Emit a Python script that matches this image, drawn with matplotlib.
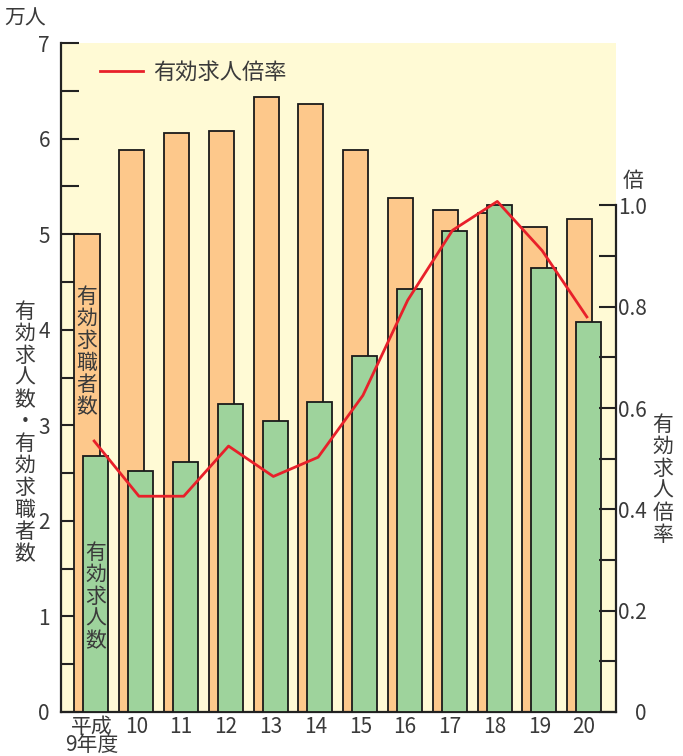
import matplotlib
matplotlib.use("Agg")
from matplotlib import pyplot as plt
from matplotlib.lines import Line2D
from matplotlib.ticker import FixedLocator, MultipleLocator

plt.rcParams['font.family'] = ['Noto Sans CJK JP', 'DejaVu Sans']

# data
years = ["平成\n9年度", "10", "11", "12", "13", "14", "15", "16", "17", "18", "19", "20"]
seekers = [5.00, 5.88, 6.06, 6.08, 6.43, 6.36, 5.88, 5.38, 5.25, 5.22, 5.07, 5.16]   # 有効求職者数 (万人)
openings = [2.68, 2.52, 2.62, 3.22, 3.04, 3.24, 3.72, 4.43, 5.03, 5.31, 4.65, 4.08]  # 有効求人数 (万人)
ratio = [0.535, 0.426, 0.426, 0.525, 0.465, 0.503, 0.625, 0.813, 0.951, 1.008, 0.911, 0.78]  # 有効求人倍率
ratio_ticks = [0, 0.2, 0.4, 0.6, 0.8, 1.0]
ratio_minor = [0.1, 0.3, 0.5, 0.7, 0.9]

W, H = 683, 756
TXT = "#3a3a3a"
ORANGE = "#FDC88B"
GREEN = "#9ED39C"
BG = "#FFFAD5"
RED = "#E8202A"

fig = plt.figure(figsize=(W / 100, H / 100), dpi=100)
ax = fig.add_axes([61 / W, 1 - 712 / H, (616 - 61) / W, (712 - 43) / H])
ax.set_facecolor(BG)

x = list(range(len(years)))
bw = 0.56
ax.bar([i - 0.1 for i in x], seekers, width=bw, color=ORANGE, edgecolor="#1a1a1a", linewidth=1.3, zorder=2)
ax.bar([i + 0.1 for i in x], openings, width=bw, color=GREEN, edgecolor="#1a1a1a", linewidth=1.3, zorder=3)

ax.set_xlim(-0.68, 11.71)
ax.set_ylim(0, 7)
ax.set_xticks(x)
ax.set_xticklabels(years, fontsize=15, color=TXT, linespacing=0.78, va="top")
ax.tick_params(axis="x", length=0, pad=3)
ax.yaxis.set_major_locator(MultipleLocator(1))
ax.yaxis.set_minor_locator(MultipleLocator(0.5))
ax.tick_params(axis="y", which="both", direction="in", length=13, width=1.5, color="#222222")
ax.tick_params(axis="y", which="major", labelsize=15, labelcolor=TXT, pad=8)
for s in ["top", "right"]:
    ax.spines[s].set_visible(False)
for s in ["left", "bottom"]:
    ax.spines[s].set_linewidth(1.6)
    ax.spines[s].set_color("#222222")

ax2 = ax.twinx()
ax2.plot([i + 0.06 for i in x], ratio, color=RED, linewidth=2, zorder=5)
ax2.set_ylim(0, 7 / 5.3)
ax2.set_yticks(ratio_ticks)
ax2.set_yticklabels(["0", "0.2", "0.4", "0.6", "0.8", "1.0"])
ax2.yaxis.set_minor_locator(FixedLocator(ratio_minor))
ax2.tick_params(axis="y", which="both", direction="in", length=12, width=1.5, color="#222222")
ax2.tick_params(axis="y", which="major", labelsize=15, labelcolor=TXT, pad=22)
for lab in ax2.get_yticklabels():
    lab.set_horizontalalignment("right")
for s in ["top", "left", "bottom"]:
    ax2.spines[s].set_visible(False)
ax2.spines["right"].set_bounds(0, 1.0)
ax2.spines["right"].set_linewidth(1.6)
ax2.spines["right"].set_color("#222222")

handle = Line2D([], [], color=RED, linewidth=2)
ax2.legend([handle], ["有効求人倍率"], loc="center left",
           bbox_to_anchor=((100 - 61) / 555, (712 - 72) / 669),
           borderpad=0, borderaxespad=0, frameon=False, fontsize=16,
           handlelength=1.95, handletextpad=0.45, labelcolor=TXT)


def ptxt(px, py, s, **kw):
    fig.text(px / W, 1 - py / H, s, color=TXT, fontsize=15, **kw)


def vtxt(px, py, s, **kw):
    ptxt(px, py, "\n".join(s), ha="center", va="center", linespacing=1.0, **kw)


ptxt(25, 19, "万人", ha="center", va="center")
ptxt(633, 181, "倍", ha="center", va="center")
vtxt(25, 433, "有効求人数・有効求職者数")
vtxt(663, 480, "有効求人倍率")
vtxt(87, 352, "有効求職者数")
vtxt(96, 597, "有効求人数")

fig.savefig("out.png", dpi=100)
